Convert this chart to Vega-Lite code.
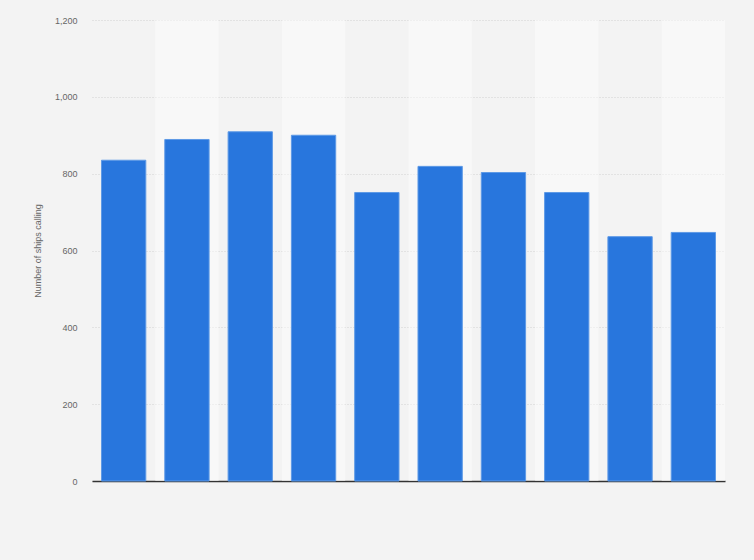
{
  "$schema": "https://vega.github.io/schema/vega-lite/v6.json",
  "autosize": "none",
  "width": 633,
  "height": 461,
  "padding": {"left": 92, "top": 20, "right": 29, "bottom": 79},
  "background": "#f3f3f3",
  "config": {
    "view": {"stroke": null},
    "font": "Liberation Sans"
  },
  "data": {
    "values": [
      {"year": "2010", "ships": 835},
      {"year": "2011", "ships": 889},
      {"year": "2012", "ships": 909},
      {"year": "2013", "ships": 900},
      {"year": "2014", "ships": 751},
      {"year": "2015", "ships": 819},
      {"year": "2016", "ships": 803},
      {"year": "2017", "ships": 751},
      {"year": "2018", "ships": 636},
      {"year": "2019", "ships": 647}
    ]
  },
  "encoding": {
    "x": {
      "field": "year",
      "type": "ordinal",
      "scale": {"paddingInner": 0.3, "paddingOuter": 0.15},
      "axis": {
        "title": null,
        "labels": false,
        "ticks": false,
        "domainColor": "#333333",
        "domainWidth": 1.5
      }
    }
  },
  "layer": [
    {
      "transform": [
        {"window": [{"op": "row_number", "as": "idx"}]},
        {"filter": "datum.idx % 2 == 0"}
      ],
      "mark": {"type": "bar", "width": 63.3, "color": "#ffffff", "opacity": 0.45},
      "encoding": {
        "y": {"datum": 1200, "type": "quantitative"}
      }
    },
    {
      "mark": {
        "type": "bar",
        "color": "#2876dd",
        "stroke": "#5e9ae6",
        "strokeWidth": 1
      },
      "encoding": {
        "y": {
          "field": "ships",
          "type": "quantitative",
          "scale": {"domain": [0, 1200]},
          "axis": {
            "title": "Number of ships calling",
            "titleFontSize": 9,
            "titleFontWeight": "normal",
            "titleColor": "#666666",
            "titlePadding": 12,
            "values": [0, 200, 400, 600, 800, 1000, 1200],
            "format": ",d",
            "labelFontSize": 9,
            "labelColor": "#666666",
            "labelPadding": 15,
            "ticks": false,
            "domain": false,
            "grid": true,
            "gridColor": "#d0d0d0",
            "gridDash": [1, 2],
            "gridWidth": 1
          }
        },
        "tooltip": [
          {"field": "year", "type": "ordinal", "title": "Year"},
          {"field": "ships", "type": "quantitative", "title": "Number of ships calling"}
        ]
      }
    }
  ]
}
